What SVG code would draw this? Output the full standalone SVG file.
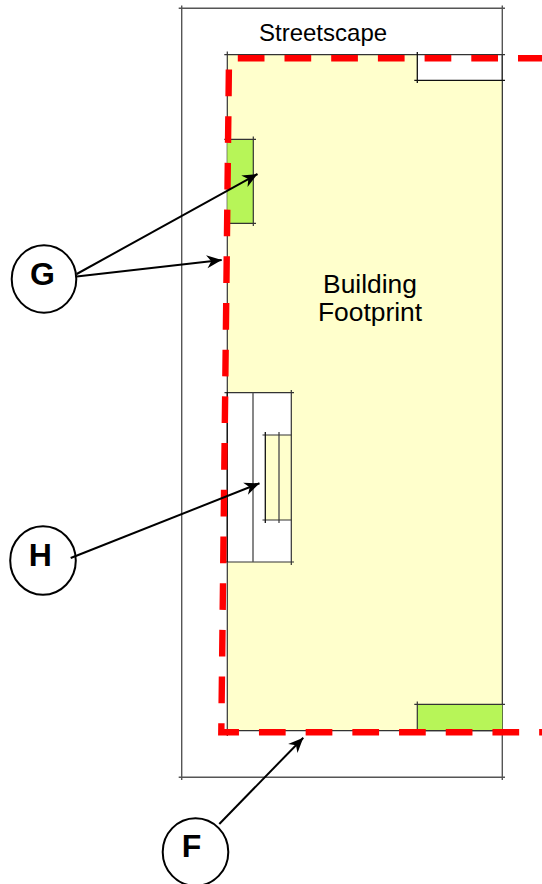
<svg xmlns="http://www.w3.org/2000/svg" width="542" height="884" viewBox="0 0 542 884">
<style>
text{font-family:"Liberation Sans",Arial,sans-serif;fill:#000}
.lab{font-size:24px}
.bf{font-size:26.4px;text-anchor:middle}
.big{font-size:32px;font-weight:bold;text-anchor:middle}
.ln{stroke:#333;stroke-width:1.2;fill:none}
.dk{stroke:#111;stroke-width:1.3;fill:none}
.gy{stroke:#555;stroke-width:1.4;fill:none}
.circ{fill:#fff;stroke:#000;stroke-width:2}
.arr{stroke:#000;stroke-width:2;fill:none;marker-end:url(#ah)}
</style>
<defs>
<marker id="ah" markerUnits="userSpaceOnUse" markerWidth="18" markerHeight="16" refX="15" refY="7" orient="auto" overflow="visible">
<path d="M0,0.5 L15,7 L0,13.5 L4.5,7 Z" fill="#000"/>
</marker>
</defs>
<rect width="542" height="884" fill="#fff"/>
<g id="streetscape">
<path class="gy" d="M181.7,5.5V780M502.3,5.5V780M178.7,8.3H505M178.7,777.3H505"/>
<text class="lab" x="259" y="41">Streetscape</text>
</g>
<g id="footprint">
<path d="M227.3,54.7H417.3V80.3H502.3V730.7H227.3Z" fill="#ffffcc"/>
<path class="ln" d="M227.3,51.5V736M224.3,54.7H505M502.3,54V731M227.3,730.7H502.3"/>
<path class="dk" d="M417.3,52V83M414.3,80.3H505"/>
<text class="bf" x="370" y="292.5">Building</text>
<text class="bf" x="370" y="321">Footprint</text>
</g>
<g id="green-top">
<rect x="227.3" y="139.3" width="26" height="84" fill="#b7f558"/>
<path class="ln" d="M224.3,139.3H256M253.3,136.5V226M224.3,223.3H256"/>
</g>
<g id="green-bottom">
<rect x="417.3" y="704.3" width="85" height="26.4" fill="#b7f558"/>
<path class="ln" d="M414.3,704.3H505M417.3,701.5V731M417.3,730.7H502.3"/>
</g>
<g id="entry">
<rect x="227.3" y="392.7" width="64" height="169.3" fill="#fff"/>
<rect x="265.3" y="435" width="26" height="85" fill="#ffffcc"/>
<path class="ln" d="M224.5,392.7H294M224.5,562H294M291.3,390V565"/>
<path class="gy" d="M253,392.7V562M279,432V523"/>
<path class="ln" d="M262.5,435H291.3M262.5,520H291.3"/>
<path class="dk" d="M265.3,432V523M227.3,392V562"/>
</g>
<g id="boundary">
<path d="M544.7,58.3H229L221.3,732.3H545" fill="none" stroke="#ff0000" stroke-width="6.4" stroke-dasharray="26.7 20"/>
</g>
<g id="node-G">
<ellipse class="circ" cx="44" cy="279" rx="32.3" ry="33.8"/>
<text class="big" x="42.5" y="284.5">G</text>
</g>
<g id="node-H">
<ellipse class="circ" cx="43" cy="560.5" rx="32.8" ry="34.3"/>
<text class="big" x="40.4" y="566">H</text>
</g>
<g id="node-F">
<ellipse class="circ" cx="195.5" cy="852" rx="32.8" ry="33.8"/>
<text class="big" x="191.5" y="857">F</text>
</g>
<g id="connectors">
<line class="arr" x1="76.7" y1="274" x2="257.5" y2="174"/>
<line class="arr" x1="76.7" y1="276.5" x2="221.7" y2="260"/>
<line class="arr" x1="70.7" y1="558" x2="259.5" y2="483.3"/>
<line class="arr" x1="219.3" y1="824" x2="303.3" y2="737.7"/>
</g>
</svg>
